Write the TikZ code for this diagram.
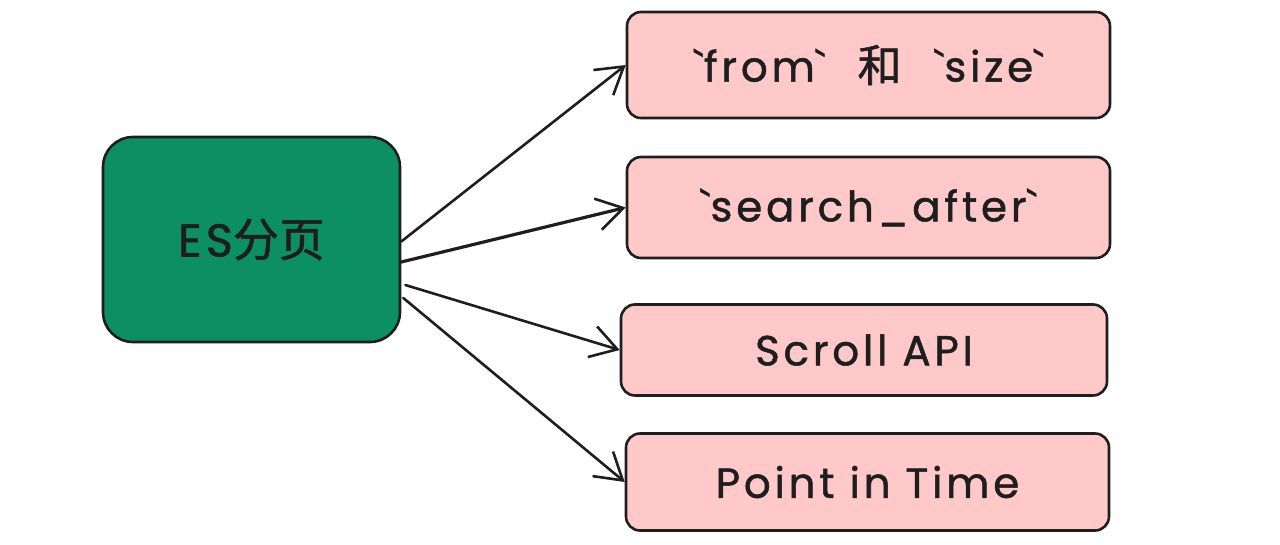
\documentclass[tikz,border=0pt]{standalone}
\usepackage{fontspec}
\usetikzlibrary{arrows.meta}
\newfontfamily\latinfont[LetterSpace=9,FakeBold=1.2]{Poppins}
\newfontfamily\cjk[FakeBold=1.2]{Noto Sans CJK SC}
\definecolor{strokec}{HTML}{1E1E1E}
\definecolor{greenfill}{HTML}{0C8F63}
\definecolor{pinkfill}{HTML}{FFC9C9}
\tikzset{
  rootbox/.style={draw=strokec, fill=greenfill, line width=2.6pt, rounded corners=30pt,
    minimum width=297pt, minimum height=205pt, inner sep=0pt,
    font=\fontsize{46}{54}\selectfont, text=strokec},
  leafbox/.style={draw=strokec, fill=pinkfill, line width=2.6pt, rounded corners=14pt,
    minimum width=483pt, inner sep=0pt, font=\latinfont\fontsize{42}{50}\selectfont, text=strokec},
  link/.style={draw=strokec, line width=2.6pt, line cap=round,
    -{Straight Barb[length=26pt,width=32pt,line width=2.6pt]}}
}
\begin{document}
\begin{tikzpicture}[x=1pt,y=-1pt]
\useasboundingbox (0,0) rectangle (1280,545);
\node[rootbox] (es) at (251.5,239.5) {\latinfont ES\cjk 分页};
\node[leafbox, minimum height=106pt] (b1) at (868.5,65) {\textasciigrave from\textasciigrave\hspace{32pt}{\cjk\fontsize{44}{50}\selectfont 和}\hspace{32pt}\textasciigrave size\textasciigrave};
\node[leafbox, minimum height=101pt] (b2) at (868.5,207.5) {\textasciigrave search\_after\textasciigrave};
\node[leafbox, minimum height=91pt, minimum width=486pt] (b3) at (864,350) {Scroll API};
\node[leafbox, minimum height=97pt] (b4) at (867.5,482) {Point in Time};
\draw[link] ([yshift=-2pt]es.east) -- (b1.west);
\draw[link, line width=3.2pt] ([yshift=-22.5pt]es.east) -- (b2.west);
\draw[link] ([xshift=4pt,yshift=-45.5pt]es.east) -- (b3.west);
\draw[link] ([xshift=2pt,yshift=-58.5pt]es.east) -- (b4.west);
\end{tikzpicture}
\end{document}
